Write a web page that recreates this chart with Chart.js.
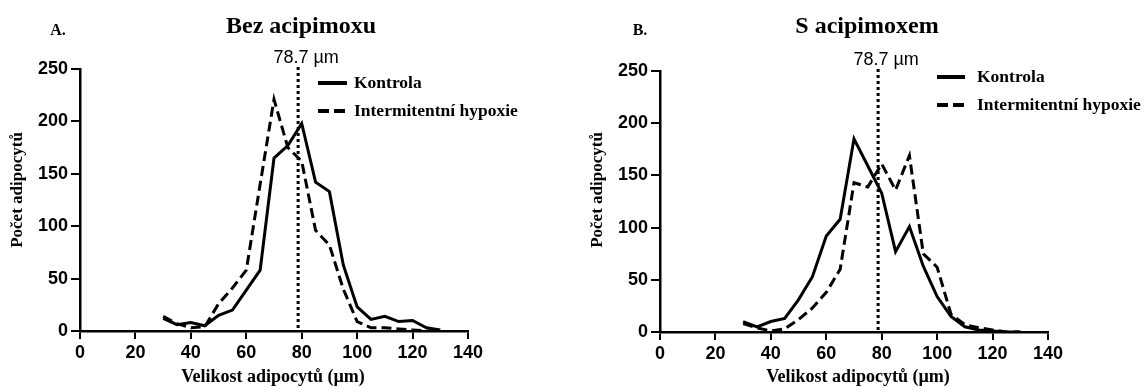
<!DOCTYPE html>
<html>
<head>
<meta charset="utf-8">
<script src="https://cdn.jsdelivr.net/npm/chart.js@4.4.0/dist/chart.umd.min.js"></script>
<style>
  html, body { margin: 0; padding: 0; background: #fff; }
  #wrap { position: relative; width: 1148px; height: 387px; }
  canvas { position: absolute; top: 0; }
</style>
</head>
<body>
<div id="wrap">
  <canvas id="cA" width="574" height="387" style="left:0"></canvas>
  <canvas id="cB" width="574" height="387" style="left:574px"></canvas>
</div>
<script>
// ---- data ----
const sizes = [30,35,40,45,50,55,60,65,70,75,80,85,90,95,100,105,110,115,120,125,130];
const kontrolaA = [12,6,8,5,15,20,39,58,165,177,198,142,133,63,23,11,14,9,10,3,1];
const hypoxieA  = [14,7,3,4,26,41,58,140,221,175,162,96,82,40,9,3,3,2,1,0,0];
const kontrolaB = [10,5,10,13,31,53,92,108,185,159,133,77,101,63,34,15,5,2,1,0,0];
const hypoxieB  = [8,4,1,3,12,23,38,60,143,139,161,136,169,75,62,17,7,4,2,0,0];
const xTicks = [0,20,40,60,80,100,120,140];
const yTicks = [0,50,100,150,200,250];
const markerValue = 78.7;
const markerLabel = '78.7 \u00b5m';
const seriesNames = ['Kontrola', 'Intermitentní hypoxie'];
const xTitle = 'Velikost adipocytů (\u00b5m)';
const yTitle = 'Počet adipocytů';

const SERIF = '"Liberation Serif", "Times New Roman", serif';
const SANS = '"Liberation Sans", Arial, sans-serif';

function pts(vals) { return sizes.map((s, i) => ({ x: s, y: vals[i] })); }

function makeChart(id, cfg) {
  const overlay = {
    id: 'overlay_' + id,
    afterDatasetsDraw(chart) {
      const ctx = chart.ctx;
      const xs = chart.scales.x;
      const ca = chart.chartArea;
      const mx = xs.getPixelForValue(markerValue);
      ctx.save();
      // dotted marker line
      ctx.strokeStyle = '#000';
      ctx.lineWidth = 3;
      ctx.setLineDash([3, 3]);
      ctx.beginPath();
      ctx.moveTo(mx, ca.top - 2);
      ctx.lineTo(mx, ca.bottom);
      ctx.stroke();
      ctx.setLineDash([]);
      // marker label
      ctx.fillStyle = '#000';
      ctx.font = '18px ' + SANS;
      ctx.textAlign = 'center';
      ctx.textBaseline = 'alphabetic';
      ctx.fillText(markerLabel, mx + 8, ca.top - 6);
      // panel letter + title
      ctx.font = 'bold 16px ' + SERIF;
      ctx.fillText(cfg.letter, cfg.letterX, 35);
      ctx.font = 'bold 24px ' + SERIF;
      ctx.fillText(cfg.title, cfg.titleX, 33);
      // legend
      ctx.lineWidth = 4;
      ctx.beginPath();
      ctx.moveTo(cfg.legX, cfg.legY1); ctx.lineTo(cfg.legX + cfg.legW, cfg.legY1);
      ctx.stroke();
      ctx.setLineDash([11, 5]);
      ctx.beginPath();
      ctx.moveTo(cfg.legX, cfg.legY2); ctx.lineTo(cfg.legX + cfg.legW, cfg.legY2);
      ctx.stroke();
      ctx.setLineDash([]);
      ctx.font = 'bold 17.5px ' + SERIF;
      ctx.textAlign = 'left';
      ctx.textBaseline = 'middle';
      ctx.fillText(seriesNames[0], cfg.legText, cfg.legY1);
      ctx.fillText(seriesNames[1], cfg.legText, cfg.legY2);
      // axis titles
      ctx.textAlign = 'center';
      ctx.textBaseline = 'alphabetic';
      ctx.font = 'bold 18px ' + SERIF;
      ctx.fillText(xTitle, cfg.xTitleX, 382);
      ctx.save();
      ctx.translate(cfg.yTitleX, 190);
      ctx.rotate(-Math.PI / 2);
      ctx.textBaseline = 'middle';
      ctx.font = 'bold 17px ' + SERIF;
      ctx.fillText(yTitle, 0, 0);
      ctx.restore();
      ctx.restore();
    }
  };

  return new Chart(document.getElementById(id), {
    type: 'line',
    data: {
      datasets: [
        { label: seriesNames[0], data: pts(cfg.k), borderColor: '#000', borderWidth: 3,
          pointRadius: 0, tension: 0, fill: false },
        { label: seriesNames[1], data: pts(cfg.h), borderColor: '#000', borderWidth: 3,
          borderDash: [10, 5], pointRadius: 0, tension: 0, fill: false }
      ]
    },
    options: {
      responsive: false,
      animation: false,
      devicePixelRatio: 1,
      layout: { padding: { left: 0, right: cfg.padRight, top: cfg.padTop, bottom: 0 } },
      plugins: { legend: { display: false }, tooltip: { enabled: false }, title: { display: false } },
      scales: {
        x: {
          type: 'linear', min: 0, max: 140,
          afterBuildTicks(s) { s.ticks = xTicks.map(v => ({ value: v })); },
          afterFit(s) { s.height = cfg.xH; },
          grid: { display: true, drawOnChartArea: false, drawTicks: true, tickLength: 8,
                  lineWidth: 2, color: '#000' },
          border: { display: true, color: '#000', width: 2.5 },
          ticks: { color: '#000', padding: 3, maxRotation: 0,
                   font: { family: SANS, size: 18, weight: 'bold' } }
        },
        y: {
          type: 'linear', min: 0, max: 250,
          afterBuildTicks(s) { s.ticks = yTicks.map(v => ({ value: v })); },
          afterFit(s) { s.width = cfg.yW; },
          grid: { display: true, drawOnChartArea: false, drawTicks: true, tickLength: 9,
                  lineWidth: 2, color: '#000' },
          border: { display: true, color: '#000', width: 2.5 },
          ticks: { color: '#000', padding: 3,
                   font: { family: SANS, size: 18, weight: 'bold' } }
        }
      }
    },
    plugins: [overlay]
  });
}

makeChart('cA', {
  k: kontrolaA, h: hypoxieA,
  letter: 'A.', letterX: 58, title: 'Bez acipimoxu', titleX: 301,
  legX: 318, legW: 29, legY1: 83, legY2: 111, legText: 354,
  xTitleX: 273, yTitleX: 18,
  padRight: 106, padTop: 69, xH: 56, yW: 80
});
makeChart('cB', {
  k: kontrolaB, h: hypoxieB,
  letter: 'B.', letterX: 66, title: 'S acipimoxem', titleX: 293,
  legX: 363, legW: 28, legY1: 77, legY2: 105, legText: 403,
  xTitleX: 284, yTitleX: 24,
  padRight: 100, padTop: 71, xH: 55, yW: 86
});
</script>
</body>
</html>
